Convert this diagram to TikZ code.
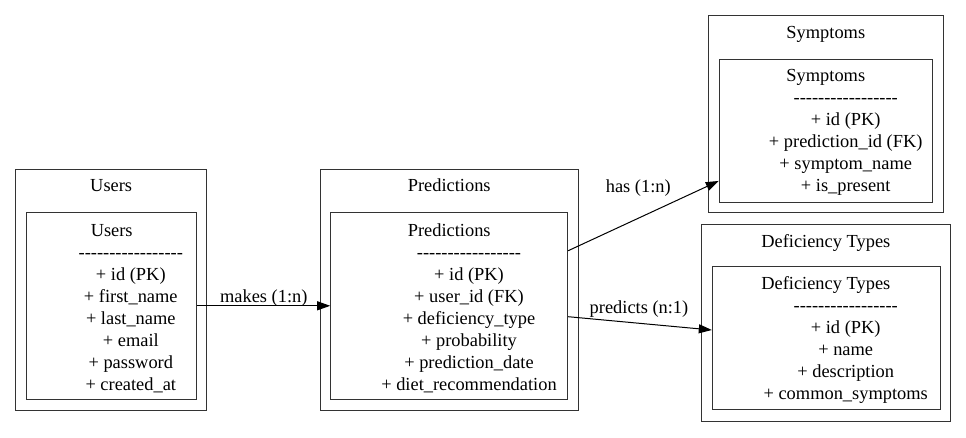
\documentclass[tikz,border=0pt]{standalone}
\usepackage{fontspec}
\setmainfont{Liberation Serif}
\usetikzlibrary{arrows.meta}
\newcommand\dashrow{-\kern0pt-\kern0pt-\kern0pt-\kern0pt-\kern0pt-\kern0pt-\kern0pt-\kern0pt-\kern0pt-\kern0pt-\kern0pt-\kern0pt-\kern0pt-\kern0pt-\kern0pt-\kern0pt-}
\tikzset{
  box/.style={draw=black!80, line width=1pt, inner sep=0pt, rectangle},
  txt/.style={anchor=base, inner sep=0pt, font=\fontsize{18.4}{22}\selectfont},
  rel/.style={draw=black, line width=1pt, -{Triangle[length=13pt,width=9pt]}},
  lbl/.style={anchor=base, inner sep=0pt, font=\fontsize{18.4}{22}\selectfont}
}
\begin{document}
\begin{tikzpicture}[x=1pt,y=-1pt]
\useasboundingbox (0,0) rectangle (966,437);
% Users
\node[box, minimum width=191pt, minimum height=240.7pt] (usersout) at (111.2,289.65) {};
\node[box, minimum width=170pt, minimum height=187pt] (usersin) at (111.7,305.8) {};
\node[txt] (usersT) at (111.2,191.7) {Users};
\node[txt] (usersT2) at (111.7,236) {Users};
\node[txt] (usersD) at (130.8,258) {\dashrow};
\node[txt] (usersF1) at (130.8,280) {+ id (PK)};
\node[txt] (usersF2) at (130.8,302) {+ first\_name};
\node[txt] (usersF3) at (130.8,324) {+ last\_name};
\node[txt] (usersF4) at (130.8,346) {+ email};
\node[txt] (usersF5) at (130.8,368) {+ password};
\node[txt] (usersF6) at (130.8,390) {+ created\_at};
% Predictions
\node[box, minimum width=258.3pt, minimum height=240.7pt] (predout) at (449.15,289.65) {};
\node[box, minimum width=237pt, minimum height=187pt] (predin) at (449.2,305.8) {};
\node[txt] (predT) at (449.2,191.7) {Predictions};
\node[txt] (predT2) at (449.2,236) {Predictions};
\node[txt] (predD) at (469,258) {\dashrow};
\node[txt] (predF1) at (469,280) {+ id (PK)};
\node[txt] (predF2) at (469,302) {+ user\_id (FK)};
\node[txt] (predF3) at (469,324) {+ deficiency\_type};
\node[txt] (predF4) at (469,346) {+ probability};
\node[txt] (predF5) at (469,368) {+ prediction\_date};
\node[txt] (predF6) at (469,390) {+ diet\_recommendation};
% Symptoms
\node[box, minimum width=235pt, minimum height=197pt] (symout) at (825.8,114.2) {};
\node[box, minimum width=213.4pt, minimum height=142.7pt] (symin) at (826,130.65) {};
\node[txt] (symT) at (825.8,38.4) {Symptoms};
\node[txt] (symT2) at (825.8,81.7) {Symptoms};
\node[txt] (symD) at (845.7,103.7) {\dashrow};
\node[txt] (symF1) at (845.7,125.7) {+ id (PK)};
\node[txt] (symF2) at (845.7,147.7) {+ prediction\_id (FK)};
\node[txt] (symF3) at (845.7,169.7) {+ symptom\_name};
\node[txt] (symF4) at (845.7,191.7) {+ is\_present};
% Deficiency Types
\node[box, minimum width=248.3pt, minimum height=197pt] (defout) at (825.85,322.5) {};
\node[box, minimum width=227.7pt, minimum height=142.6pt] (defin) at (826.15,338) {};
\node[txt] (defT) at (825.8,247.3) {Deficiency Types};
\node[txt] (defT2) at (825.8,289.3) {Deficiency Types};
\node[txt] (defD) at (845.7,311.3) {\dashrow};
\node[txt] (defF1) at (845.7,333.3) {+ id (PK)};
\node[txt] (defF2) at (845.7,355.3) {+ name};
\node[txt] (defF3) at (845.7,377.3) {+ description};
\node[txt] (defF4) at (845.7,399.3) {+ common\_symptoms};
% relations
\draw[rel] (usersin.east) -- (predin.west);
\node[lbl] (lmakes) at (263.8,302) {makes (1:n)};
\draw[rel] ([yshift=55.1pt]predin.east) -- ([yshift=-50.3pt]symin.west);
\node[lbl] (lhas) at (638.3,192.7) {has (1:n)};
\draw[rel] ([yshift=-10.9pt]predin.east) -- ([yshift=8pt]defin.west);
\node[lbl] (lpred) at (639,313.3) {predicts (n:1)};
\end{tikzpicture}
\end{document}
